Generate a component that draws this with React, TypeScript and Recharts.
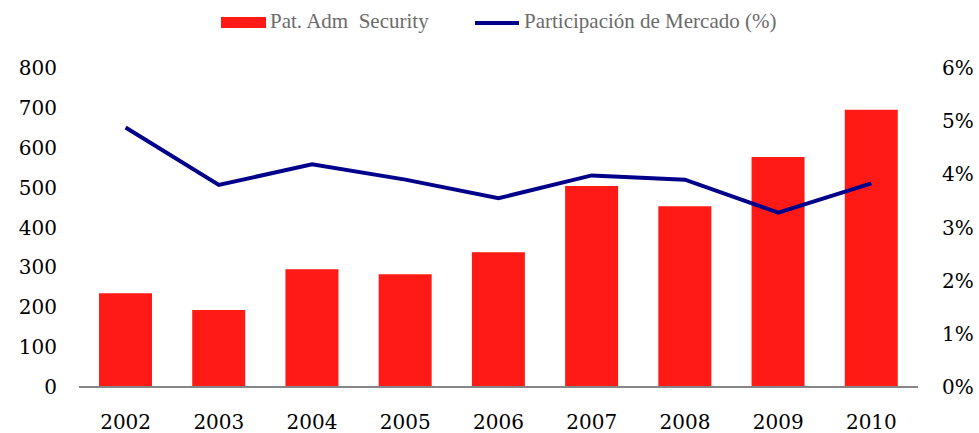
import React from 'react';
import { ComposedChart, Bar, Line, XAxis, YAxis, Legend } from 'recharts';

const years = ['2002', '2003', '2004', '2005', '2006', '2007', '2008', '2009', '2010'];
const patrimonio = [235, 193, 295, 283, 338, 504, 453, 577, 695];
const participacion = [4.88, 3.8, 4.19, 3.9, 3.55, 3.98, 3.9, 3.28, 3.83];
const leftTicks = [0, 100, 200, 300, 400, 500, 600, 700, 800];
const rightTicks = [0, 1, 2, 3, 4, 5, 6];

const data = years.map((y, i) => ({ year: y, pat: patrimonio[i], part: participacion[i] }));

const BAR_COLOR = '#FF1A16';
const LINE_COLOR = '#00008B';
const tickStyle = { fontFamily: 'DejaVu Serif', fontSize: 20, fill: '#000' };

const LegendContent = () => (
  <div style={{ position: 'relative', width: 979, height: 40, fontFamily: 'Liberation Serif', fontSize: 21, color: '#6b6b6b', lineHeight: '21px' }}>
    <div style={{ position: 'absolute', left: 221, top: 17, width: 45, height: 11, background: BAR_COLOR }} />
    <div style={{ position: 'absolute', left: 270, top: 11, whiteSpace: 'pre' }}>Pat. Adm  Security</div>
    <div style={{ position: 'absolute', left: 475, top: 21, width: 44, height: 4, background: LINE_COLOR }} />
    <div style={{ position: 'absolute', left: 524, top: 11, whiteSpace: 'pre' }}>Participación de Mercado (%)</div>
  </div>
);

export default function App() {
  return (
    <div style={{ position: 'absolute', left: 0, top: 0, background: '#fff' }}>
      <ComposedChart width={979} height={433} data={data} margin={{ top: 28, right: 0, bottom: 0, left: 0 }} barCategoryGap="21.7%">
        <Legend verticalAlign="top" align="left" height={40} content={() => <LegendContent />} wrapperStyle={{ left: 0, top: 0 }} />
        <XAxis
          dataKey="year"
          height={46}
          axisLine={{ stroke: '#868686', strokeWidth: 2 }}
          tickLine={false}
          tickSize={0}
          tickMargin={28}
          tick={tickStyle}
          interval={0}
        />
        <YAxis
          yAxisId="left"
          width={79}
          domain={[0, 800]}
          ticks={leftTicks}
          axisLine={false}
          tickLine={false}
          tickSize={0}
          tickMargin={22}
          tick={tickStyle}
          interval={0}
        />
        <YAxis
          yAxisId="right"
          orientation="right"
          width={61}
          domain={[0, 6]}
          ticks={rightTicks}
          axisLine={false}
          tickLine={false}
          tickSize={0}
          tickMargin={24}
          tick={{ ...tickStyle, textAnchor: 'start' }}
          tickFormatter={(v: number) => `${v}%`}
          interval={0}
        />
        <Bar yAxisId="left" dataKey="pat" name="Pat. Adm  Security" fill={BAR_COLOR} barSize={53} isAnimationActive={false} />
        <Line yAxisId="right" dataKey="part" name="Participación de Mercado (%)" stroke={LINE_COLOR} strokeWidth={4} dot={false} isAnimationActive={false} />
      </ComposedChart>
    </div>
  );
}
